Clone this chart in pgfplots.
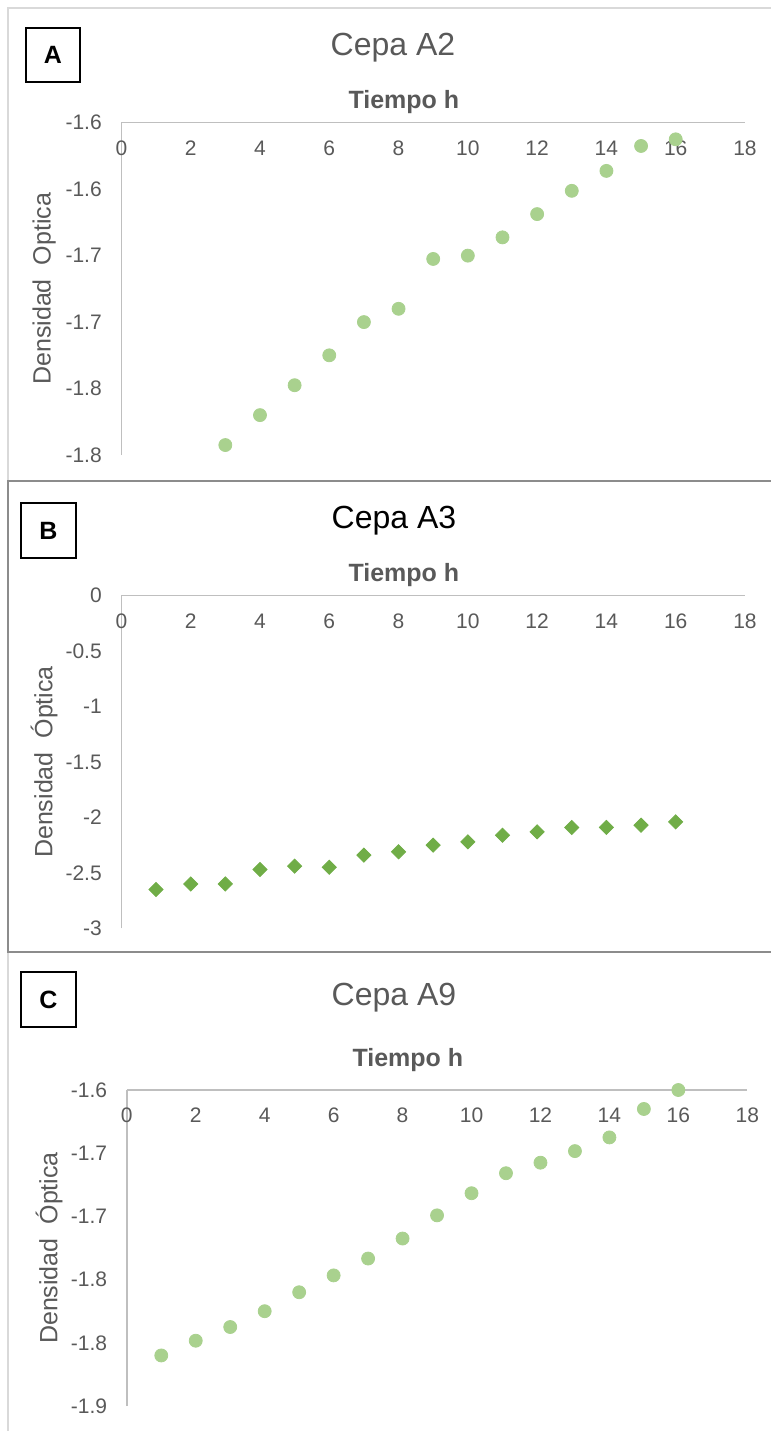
\documentclass[border=0pt]{standalone}
\usepackage{pgfplots}
\pgfplotsset{compat=1.18}
\usepackage{fontspec}
\setmainfont{Liberation Sans}

\definecolor{txtgray}{HTML}{595959}
\definecolor{axgray}{HTML}{BFBFBF}
\definecolor{ltgreen}{HTML}{A9D18E}
\definecolor{dkgreen}{HTML}{70AD47}
\definecolor{framelt}{HTML}{D9D9D9}
\definecolor{framedk}{HTML}{8C8C8C}

\pgfplotsset{
  cepa/.style={
    scale only axis,
    anchor=north west,
    axis x line*=top,
    axis y line*=left,
    axis line style={axgray, line width=0.75pt, -},
    major tick length=0pt,
    xmin=0, xmax=18, xtick={0,2,...,18},
    tick label style={font=\fontsize{10.5}{12}\selectfont, text=txtgray},
    /pgf/number format/assume math mode=true,
    xticklabel style={anchor=north, yshift=-5.5pt},
    yticklabel style={xshift=-6.3pt},
    xlabel={\bfseries Tiempo h},
    xlabel style={font=\fontsize{12.5}{14}\selectfont, text=txtgray, anchor=center},
    ylabel style={font=\fontsize{12.5}{14}\selectfont, text=txtgray, anchor=center},
    clip=false,
  },
  circ/.style={only marks, mark=*, mark size=3.25pt, mark options={draw=ltgreen, fill=ltgreen}},
  diam/.style={only marks, mark=square*, mark size=2.5pt, mark options={draw=dkgreen, fill=dkgreen, rotate=45}},
}

\begin{document}
\begin{tikzpicture}
\useasboundingbox (0,0) rectangle (385.5pt,-715.5pt);

% panel frames
\draw[framelt, line width=1pt] (386pt,-4pt) -- (4pt,-4pt) -- (4pt,-240pt);
\draw[framedk, line width=1pt] (386pt,-240.5pt) -- (4pt,-240.5pt) -- (4pt,-475.75pt) -- (386pt,-475.75pt);
\draw[framelt, line width=1pt] (4pt,-476.5pt) -- (4pt,-716pt);

% letters
\node[draw=black, line width=1pt, minimum size=27pt, inner sep=0pt, font=\fontsize{12.5}{14}\selectfont\bfseries] at (26.4pt,-27.25pt) {A};
\node[draw=black, line width=1pt, minimum size=27.5pt, inner sep=0pt, font=\fontsize{12.5}{14}\selectfont\bfseries] at (24.15pt,-265.25pt) {B};
\node[draw=black, line width=1pt, minimum size=27.5pt, inner sep=0pt, font=\fontsize{12.5}{14}\selectfont\bfseries] at (24.15pt,-499.75pt) {C};

% titles
\node[font=\fontsize{16}{18}\selectfont, text=txtgray] at (196.5pt,-24pt) {Cepa A2};
\node[font=\fontsize{16}{18}\selectfont, text=black] at (197pt,-260.5pt) {Cepa A3};
\node[font=\fontsize{16}{18}\selectfont, text=txtgray] at (197pt,-499pt) {Cepa A9};

% A
\begin{axis}[cepa,
  at={(60.7pt,-61.35pt)}, width=311.8pt, height=166.15pt,
  ymin=-1.80, ymax=-1.60,
  ytick={-1.8,-1.76,-1.72,-1.68,-1.64,-1.6},
  yticklabels={-1.8,-1.8,-1.7,-1.7,-1.6,-1.6},
  xlabel style={at={(axis description cs:0.453,1)}, yshift=10.3pt},
  ylabel={Densidad~~Optica},
  ylabel style={at={(axis description cs:-0.124,0.5)}},
]
\addplot[circ] coordinates {
  (3,-1.794) (4,-1.776) (5,-1.758) (6,-1.740) (7,-1.720) (8,-1.712)
  (9,-1.682) (10,-1.680) (11,-1.669) (12,-1.655) (13,-1.641) (14,-1.629)
  (15,-1.614) (16,-1.610)};
\end{axis}

% B
\begin{axis}[cepa,
  at={(60.7pt,-297.85pt)}, width=311.8pt, height=166.3pt,
  ymin=-3, ymax=0,
  ytick={-3,-2.5,-2,-1.5,-1,-0.5,0},
  yticklabels={-3,-2.5,-2,-1.5,-1,-0.5,0},
  xlabel style={at={(axis description cs:0.453,1)}, yshift=10.3pt},
  ylabel={Densidad~~Óptica},
  ylabel style={at={(axis description cs:-0.124,0.5)}},
]
\addplot[diam] coordinates {
  (1,-2.65) (2,-2.60) (3,-2.60) (4,-2.47) (5,-2.44) (6,-2.45)
  (7,-2.34) (8,-2.31) (9,-2.25) (10,-2.22) (11,-2.16) (12,-2.13)
  (13,-2.09) (14,-2.09) (15,-2.07) (16,-2.04)};
\end{axis}

% C
\begin{axis}[cepa,
  at={(63.4pt,-545pt)}, width=310.25pt, height=158pt,
  ymin=-1.90, ymax=-1.60,
  ytick={-1.9,-1.84,-1.78,-1.72,-1.66,-1.6},
  yticklabels={-1.9,-1.8,-1.8,-1.7,-1.7,-1.6},
  xlabel style={at={(axis description cs:0.453,1)}, yshift=15pt},
  ylabel={Densidad~~Óptica},
  ylabel style={at={(axis description cs:-0.125,0.5)}},
]
\addplot[circ] coordinates {
  (1,-1.852) (2,-1.838) (3,-1.825) (4,-1.810) (5,-1.792) (6,-1.776)
  (7,-1.760) (8,-1.741) (9,-1.719) (10,-1.698) (11,-1.679) (12,-1.669)
  (13,-1.658) (14,-1.645) (15,-1.618) (16,-1.600)};
\end{axis}
\end{tikzpicture}
\end{document}
